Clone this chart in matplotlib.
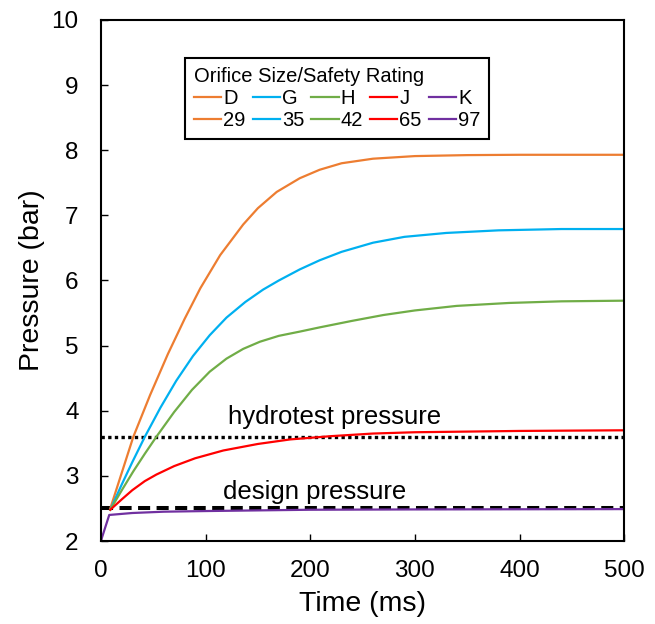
import matplotlib
matplotlib.use("Agg")
import matplotlib.pyplot as plt
from matplotlib.lines import Line2D

plt.rcParams["font.family"] = ["Liberation Sans", "DejaVu Sans"]

# orifice sizes and safety ratings
sizes = ["D", "G", "H", "J", "K"]
ratings = ["29", "35", "42", "65", "97"]
colors = ["#ED7D31", "#00B0F0", "#70AD47", "#FF0000", "#7030A0"]

# pressure traces (time in ms, pressure in bar)
t_D = [9, 20, 31, 47, 64, 80, 95, 114, 136, 150, 168, 190, 209, 230, 260, 300, 350, 400, 500]
p_D = [2.50, 3.05, 3.6, 4.24, 4.87, 5.41, 5.88, 6.39, 6.86, 7.11, 7.36, 7.57, 7.70, 7.80, 7.87, 7.91, 7.925, 7.93, 7.93]

t_G = [9, 20, 30, 42, 57, 72, 88, 104, 120, 138, 155, 170, 190, 209, 230, 260, 290, 330, 380, 440, 500]
p_G = [2.48, 2.87, 3.21, 3.6, 4.05, 4.46, 4.84, 5.16, 5.43, 5.67, 5.86, 6.0, 6.17, 6.31, 6.44, 6.58, 6.67, 6.73, 6.77, 6.79, 6.79]

t_H = [9, 20, 31, 42, 53, 70, 87, 104, 120, 136, 152, 170, 190, 209, 240, 270, 300, 340, 390, 440, 500]
p_H = [2.48, 2.78, 3.07, 3.34, 3.6, 3.98, 4.32, 4.6, 4.8, 4.95, 5.06, 5.15, 5.215, 5.28, 5.38, 5.47, 5.54, 5.61, 5.655, 5.68, 5.69]

t_J = [9, 20, 30, 42, 53, 70, 90, 117, 150, 181, 220, 260, 300, 400, 500]
p_J = [2.48, 2.64, 2.78, 2.92, 3.02, 3.15, 3.27, 3.39, 3.49, 3.56, 3.61, 3.65, 3.67, 3.69, 3.70]

t_K = [0, 8, 30, 60, 100, 200, 300, 500]
p_K = [2.0, 2.40, 2.43, 2.45, 2.46, 2.48, 2.485, 2.49]

hydrotest = 3.6
design = 2.5
t_range = [0, 500]

fig, ax = plt.subplots(figsize=(6.55, 6.24), dpi=100)
fig.subplots_adjust(left=0.154, right=0.953, bottom=0.133, top=0.968)

ax.plot(t_range, [hydrotest, hydrotest], color="black", lw=2.4, linestyle=(0, (1, 1)))
ax.plot(t_range, [design, design], color="black", lw=2.9, linestyle=(0, (3, 1.6)))

for t, p, c in zip([t_D, t_G, t_H, t_J, t_K], [p_D, p_G, p_H, p_J, p_K], colors):
    ax.plot(t, p, color=c, lw=1.6)

ax.text(121, 3.8, "hydrotest pressure", fontsize=18.5, va="baseline")
ax.text(117, 2.65, "design pressure", fontsize=18.5, va="baseline")

ax.set_xlim(0, 500)
ax.set_ylim(2, 10)
ax.set_xticks(range(0, 501, 100))
ax.set_yticks(range(2, 11))
ax.tick_params(axis="x", direction="in", length=5, width=1, labelsize=17.5, pad=14)
ax.tick_params(axis="y", direction="in", length=5, width=1, labelsize=17.5, pad=16)
for s in ax.spines.values():
    s.set_linewidth(1.5)

ax.set_xlabel("Time (ms)", fontsize=20.5, labelpad=6)
ax.set_ylabel("Pressure (bar)", fontsize=20.5, labelpad=5)

handles, labels = [], []
for name, rating, c in zip(sizes, ratings, colors):
    handles += [Line2D([], [], color=c, lw=1.6), Line2D([], [], color=c, lw=1.6)]
    labels += [name, rating]
leg = ax.legend(handles, labels, ncol=5, title="Orifice Size/Safety Rating",
                loc="upper left", bbox_to_anchor=(0.161, 0.927), borderaxespad=0,
                fontsize=14.5, title_fontsize=14.5, alignment="left",
                handlelength=1.35, handletextpad=0.1, columnspacing=0.35,
                labelspacing=0.15, borderpad=0.45, fancybox=False, framealpha=1,
                edgecolor="black")
leg.get_frame().set_linewidth(1.5)

fig.savefig("out.png", dpi=100)
